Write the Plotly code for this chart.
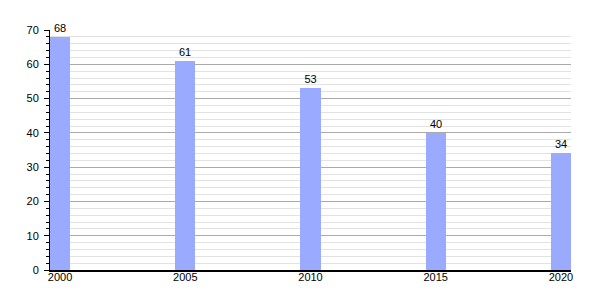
import plotly.graph_objects as go

years = [2000, 2005, 2010, 2015, 2020]
values = [68, 61, 53, 40, 34]
y_ticks = [0, 10, 20, 30, 40, 50, 60, 70]

fig = go.Figure()
fig.add_trace(go.Bar(
    x=years, y=values, width=0.8,
    marker=dict(color="#99aaff", line=dict(width=0)),
    text=[str(v) for v in values], textposition="outside",
    textfont=dict(family="Liberation Sans, Arial", size=11, color="black"),
    cliponaxis=False,
))
fig.update_layout(
    width=600, height=300,
    margin=dict(l=50, r=29, t=30, b=30),
    paper_bgcolor="white", plot_bgcolor="white",
    showlegend=False,
    font=dict(family="Liberation Sans, Arial", size=11, color="black"),
    bargap=0,
)
fig.update_xaxes(
    range=[1999.6, 2020.4], tickvals=years, ticktext=[str(y) for y in years],
    showgrid=False, showline=True, linecolor="black", linewidth=1.5,
    ticks="", ticklen=0, zeroline=False, ticklabelstandoff=-4,
)
fig.update_yaxes(
    range=[0, 70], tickvals=y_ticks, showgrid=True, gridcolor="#aaaaaa", gridwidth=1,
    showline=True, linecolor="black", linewidth=1,
    ticks="outside", ticklen=5, tickcolor="black", zeroline=False,
    ticklabelstandoff=3,
    minor=dict(dtick=2, showgrid=True, gridcolor="#e2e2e2", gridwidth=1,
               ticks="outside", ticklen=3, tickcolor="black"),
)
fig.write_html("out.html")
